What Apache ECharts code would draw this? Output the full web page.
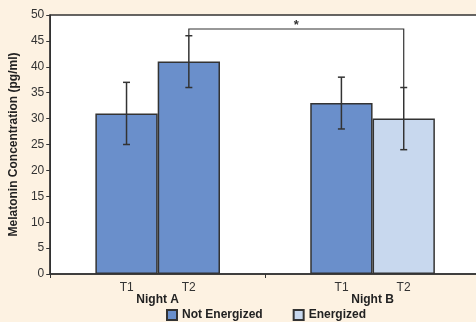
<!DOCTYPE html>
<html><head><meta charset="utf-8">
<script src="https://cdn.jsdelivr.net/npm/echarts@6/dist/echarts.min.js"></script>
<style>html,body{margin:0;padding:0;background:#fdf2e2;overflow:hidden;}#c{width:486px;height:322px;}</style>
</head><body><div id="c"></div>
<script>
const categories = ['Night A', 'Night B'];
const subLabels = ['T1', 'T2'];
const t1Mean = [31, 33];
const t1Low = [25, 28];
const t1High = [37, 38];
const t2Mean = [41, 30];
const t2Low = [36, 24];
const t2High = [46, 36];
const t2Energized = [false, true];
const legendNames = ['Not Energized', 'Energized'];
const yMin = 0, yMax = 50, yStep = 5;
const bracketLevel = 47.3;
const bracketFrom = 0, bracketTo = 1;
const bracketLabel = '*';

const DARK = '#6a8fcb', LIGHT = '#c8d8ee', EDGE = '#333333';
const CAT_GAP = 0.42;

function barOffset(api, sign) {
  const band = api.size([1, 0])[0];
  const bw = band * (1 - CAT_GAP) / 2;
  return sign * bw / 2;
}

function errRender(params, api) {
  const cat = api.value(0);
  const lo = api.coord([cat, api.value(1)]);
  const hi = api.coord([cat, api.value(2)]);
  const x = lo[0] + barOffset(api, api.value(3));
  const cap = 3.5;
  const st = { stroke: EDGE, lineWidth: 1.5 };
  return { type: 'group', children: [
    { type: 'line', shape: { x1: x, y1: lo[1], x2: x, y2: hi[1] }, style: st },
    { type: 'line', shape: { x1: x - cap, y1: lo[1], x2: x + cap, y2: lo[1] }, style: st },
    { type: 'line', shape: { x1: x - cap, y1: hi[1], x2: x + cap, y2: hi[1] }, style: st }
  ]};
}

const errData = [];
for (let i = 0; i < categories.length; i++) {
  errData.push([i, t1Low[i], t1High[i], -1]);
  errData.push([i, t2Low[i], t2High[i], 1]);
}

function bracketRender(params, api) {
  const a = api.value(0), b = api.value(1);
  const pa = api.coord([a, api.value(2)]);
  const pb = api.coord([b, api.value(3)]);
  const lvl = api.coord([a, api.value(4)])[1];
  const xa = pa[0] + barOffset(api, 1);
  const xb = pb[0] + barOffset(api, 1);
  const st = { stroke: EDGE, lineWidth: 1.2, fill: null };
  return { type: 'group', children: [
    { type: 'polyline', shape: { points: [[xa, pa[1]], [xa, lvl], [xb, lvl], [xb, pb[1]]] }, style: st },
    { type: 'text', x: (xa + xb) / 2, y: lvl + 3, style: { text: bracketLabel, fill: EDGE, font: 'bold 13px "Liberation Sans", Arial, sans-serif', align: 'center', verticalAlign: 'bottom' } }
  ]};
}

const chart = echarts.init(document.getElementById('c'), null, { renderer: 'canvas' });
chart.setOption({
  backgroundColor: '#fdf2e2',
  animation: false,
  textStyle: { fontFamily: '"Liberation Sans", Arial, sans-serif' },
  grid: { left: 50, top: 15, right: 6, bottom: 48, show: true, backgroundColor: '#ffffff', borderColor: EDGE, borderWidth: 1.5 },
  legend: {
    data: legendNames, left: 166, top: 309, itemWidth: 10, itemHeight: 10, itemGap: 30, padding: 0,
    textStyle: { fontSize: 12, fontWeight: 'bold', color: '#222' },
    icon: 'rect'
  },
  xAxis: {
    type: 'category', data: categories,
    axisLine: { lineStyle: { color: EDGE, width: 1.5 } },
    axisTick: { show: true, length: 4, lineStyle: { color: EDGE } },
    axisLabel: {
      margin: 8, interval: 0,
      formatter: function (v) { return '{t|' + subLabels[0] + '}{t|' + subLabels[1] + '}\n{n|' + v + '}'; },
      rich: {
        t: { width: 62, align: 'center', fontSize: 12, color: '#333', lineHeight: 11 },
        n: { fontSize: 12, fontWeight: 'bold', color: '#222', lineHeight: 13 }
      }
    }
  },
  yAxis: {
    type: 'value', min: yMin, max: yMax, interval: yStep,
    name: 'Melatonin Concentration (pg/ml)', nameLocation: 'middle', nameGap: 29,
    nameTextStyle: { fontSize: 12, fontWeight: 'bold', color: '#222' },
    splitLine: { show: false },
    axisLine: { show: true, lineStyle: { color: EDGE, width: 1.5 } },
    axisTick: { show: true, length: 4, lineStyle: { color: EDGE } },
    axisLabel: { fontSize: 12, color: '#333', margin: 6 }
  },
  series: [
    { type: 'bar', name: legendNames[0], data: t1Mean, barGap: '0%', barCategoryGap: '42%',
      itemStyle: { color: DARK, borderColor: EDGE, borderWidth: 1.5 } },
    { type: 'bar', name: legendNames[0], stack: 't2', data: t2Mean.map((v, i) => t2Energized[i] ? '-' : v), barGap: '0%', barCategoryGap: '42%',
      itemStyle: { color: DARK, borderColor: EDGE, borderWidth: 1.5 } },
    { type: 'bar', name: legendNames[1], stack: 't2', data: t2Mean.map((v, i) => t2Energized[i] ? v : '-'), barGap: '0%', barCategoryGap: '42%',
      itemStyle: { color: LIGHT, borderColor: EDGE, borderWidth: 1.5 } },
    { type: 'custom', name: 'err', renderItem: errRender, data: errData, z: 5, silent: true },
    { type: 'custom', name: 'bracket', renderItem: bracketRender, data: [[bracketFrom, bracketTo, t2High[bracketFrom], t2High[bracketTo], bracketLevel]], z: 6, silent: true, clip: false }
  ]
});
</script></body></html>
